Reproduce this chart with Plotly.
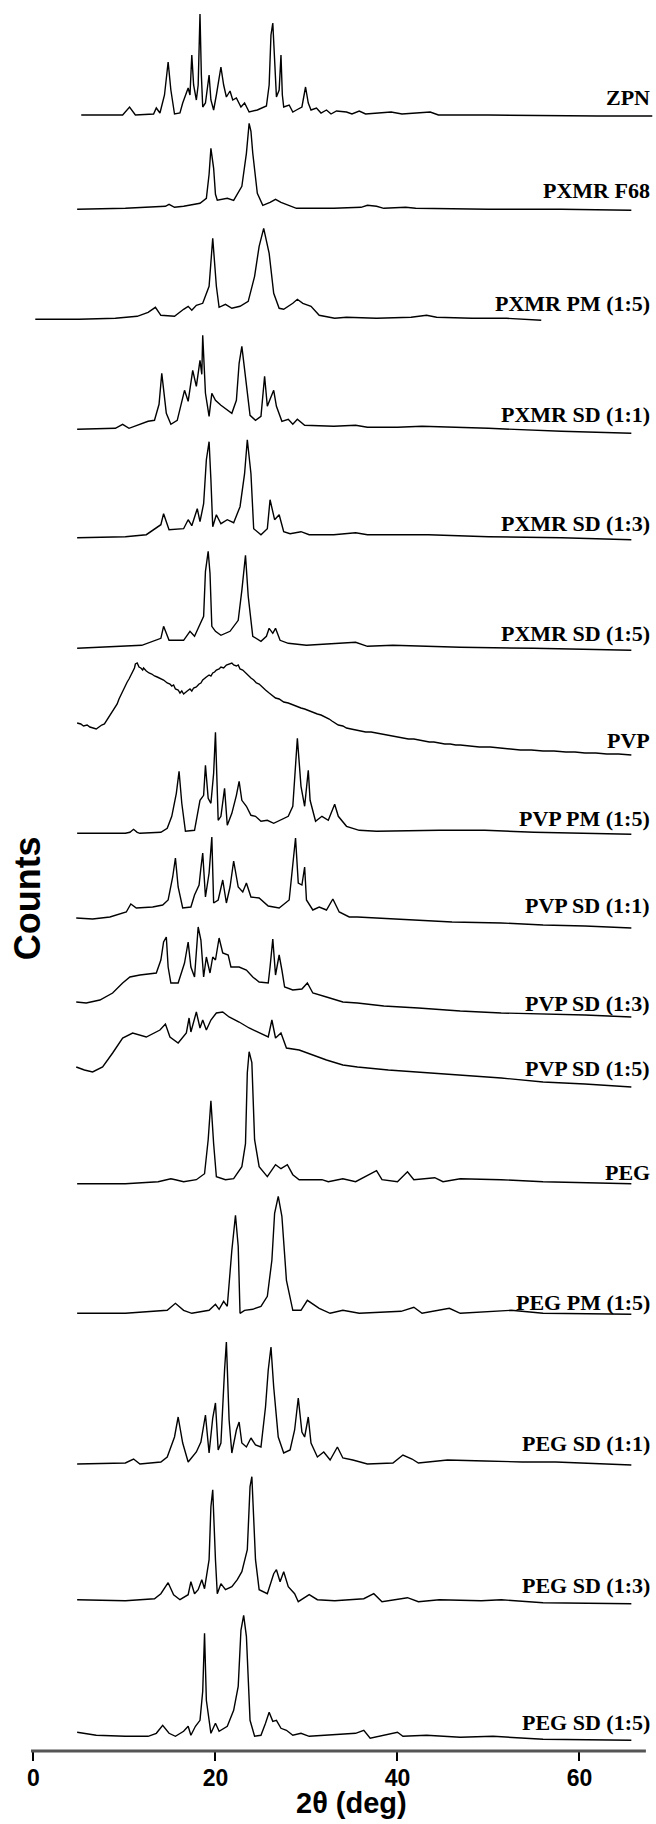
import plotly.graph_objects as go

# ---- data: (2theta, intensity above baseline) ----
ZPN = [(5.25,0),(9.8,0),(10.56,8),(11.2,0),(13.2,1),(13.5,7),(13.9,2),(14.4,20),(14.8,53),(15.1,25),(15.5,1),(16.1,2),
       (16.4,12),(17.0,27),(17.2,20),(17.4,60),(17.6,30),(17.9,15),(18.1,30),(18.3,101),(18.45,40),(18.6,8),(18.9,12),
       (19.3,40),(19.5,15),(19.8,5),(20.1,20),(20.6,48),(20.9,30),(21.2,18),(21.6,24),(21.9,15),(22.3,17),(22.8,8),
       (23.2,12),(23.7,3),(24.6,5),(25.6,9),(25.9,30),(26.1,80),(26.3,92),(26.5,60),(26.7,18),(27.0,25),(27.2,60),
       (27.35,20),(27.5,8),(28.1,10),(28.5,3),(28.9,5),(29.5,8),(29.9,28),(30.2,12),(30.5,5),(31.1,7),(31.6,2),(32.2,5),
       (32.7,1),(33.3,4),(34.4,3),(35.0,1),(35.8,4),(36.5,1),(39.3,3),(40.5,1),(43.6,3),(44.5,0),(50,0),(57,-1),(62,-1),(68,-1)]
PXMR_F68 = [(4.8,0),(10.1,1),(14.5,3),(14.9,5),(15.5,2),(16.5,3),(18.3,6),(19.0,11),(19.3,35),(19.5,61),(19.8,41),(20.0,15),
            (20.2,9),(21.3,11),(22.0,9),(22.9,23),(23.4,56),(23.6,80),(23.7,86),(23.9,78),(24.1,56),(24.6,16),(25.2,4),(26.0,7),
            (26.6,10),(27.2,7),(28.0,4),(28.9,1),(33,1),(36.0,2),(36.7,4),(37.7,3),(38.5,1),(40.9,2),(42,1),(50,0),(58,0),(65.7,-1)]
PXMR_PM15 = [(0.2,-1),(5,-1),(9,0),(11.4,2),(12.6,6),(13.4,11),(14.0,3),(15.5,2),(16.5,9),(17.0,12),(17.4,8),(17.9,13),(18.6,15),
             (19.3,32),(19.7,80),(20.1,32),(20.4,11),(21.1,14),(21.8,10),(22.7,12),(23.6,17),(24.3,42),(24.8,72),(25.3,90),
             (25.9,65),(26.4,25),(27.0,10),(27.5,9),(28.5,15),(29.0,19),(29.6,15),(30.5,12),(31.4,3),(33.1,0),(34.4,1),(37.7,0),
             (41.5,1),(43.2,3),(44.3,1),(48.2,0),(52,0),(55.8,-2)]
PXMR_SD11 = [(4.8,0),(9.0,1),(9.8,5),(10.5,1),(12.6,8),(13.3,9),(13.8,25),(14.1,56),(14.6,16),(15.1,5),(15.8,9),(16.3,26),(16.6,39),
             (17.0,28),(17.5,59),(17.9,43),(18.3,69),(18.5,55),(18.6,94),(18.9,36),(19.3,13),(19.6,36),(20.0,29),(20.6,24),(21.3,19),
             (21.8,16),(22.3,29),(22.6,66),(22.9,83),(23.3,53),(23.8,14),(24.4,9),(25.0,13),(25.4,53),(25.7,23),(26.0,30),(26.4,39),
             (26.7,23),(27.3,8),(28.0,10),(28.5,5),(29.0,10),(29.8,4),(33,3),(35.4,4),(36.7,2),(40,2),(42.7,3),(50,1),(58,-2),(65.7,-4)]
PXMR_SD13 = [(4.8,0),(10.1,1),(12.4,3),(14.0,13),(14.3,24),(14.9,8),(16.5,9),(17.0,18),(17.4,12),(18.0,29),(18.3,16),(18.7,34),(19.0,78),
             (19.3,96),(19.5,58),(19.7,11),(20.1,23),(20.6,14),(21.3,18),(22.0,15),(22.7,31),(23.2,64),(23.5,98),(23.9,64),(24.2,9),
             (25.0,3),(25.7,9),(26.0,38),(26.5,18),(27.0,23),(27.5,6),(28.2,4),(29.4,6),(30.3,3),(33,3),(35.4,5),(36.7,3),(39.5,3),
             (43.4,3),(50,1),(58,0),(65.7,-2)]
PXMR_SD15 = [(4.8,0),(10.1,2),(11.9,3),(14.0,10),(14.3,22),(14.9,8),(16.5,8),(17.2,17),(17.7,12),(18.1,20),(18.7,32),(18.9,77),(19.2,97),
             (19.4,75),(19.6,22),(20.0,17),(20.6,13),(21.6,17),(22.5,28),(22.9,58),(23.3,93),(23.6,52),(24.1,12),(25.0,7),(25.6,12),
             (25.9,20),(26.3,15),(26.6,20),(27.1,8),(28.0,5),(30,3),(35.4,6),(36.7,2),(39.5,3),(46.9,1),(55,0),(65.7,-2)]
PVP = [(4.8,32),(5.2,31),(5.5,29),(5.9,30),(6.2,28),(6.6,27),(6.9,26),(7.2,28),(7.5,30),(7.8,31),(8.0,34),(8.3,38),(8.7,44),
       (9.0,48),(9.2,51),(9.4,56),(9.6,60),(9.9,66),(10.1,69),(10.3,73),(10.5,76),(10.7,80),(10.9,83),(11.1,87),(11.2,91),
       (11.4,92),(11.6,88),(11.8,87),(12.0,85),(12.1,87),(12.4,84),(12.7,82),(13.0,81),(13.3,79),(13.6,78),(14.0,76),(14.3,75),
       (14.7,72),(15.0,71),(15.2,69),(15.4,70),(15.6,66),(15.9,65),(16.1,62),(16.3,64),(16.5,61),(16.7,63),(16.9,64),(17.2,66),
       (17.4,64),(17.6,67),(17.9,68),(18.2,71),(18.4,72),(18.6,75),(18.8,77),(19.0,78),(19.3,80),(19.5,79),(19.7,82),(19.9,83),
       (20.1,85),(20.4,86),(20.6,88),(20.9,87),(21.2,90),(21.5,91),(21.8,92),(22.0,90),(22.3,89),(22.5,90),(22.7,86),(23.0,85),
       (23.3,82),(23.6,80),(23.9,77),(24.2,75),(24.5,72),(24.8,71),(25.2,67),(25.5,65),(25.9,62),(26.2,60),(26.6,57),(27.0,56),
       (27.5,53),(28.0,52),(28.5,50),(29.0,48),(29.4,47),(29.8,46),(30.3,44),(30.7,43),(31.2,41),(31.6,40),(32.1,38),(32.5,36),
       (32.8,34),(33.2,32),(33.5,30),(34.0,29),(34.4,27),(34.9,26),(35.4,25),(36.0,24),(36.5,23),(37.1,23),(37.7,22),(38.2,21),
       (38.8,20),(39.4,19),(40.0,18),(40.6,17),(41.2,16),(41.8,16),(42.3,15),(42.9,14),(43.5,13),(44.0,13),(44.6,12),(45.2,11),
       (45.8,11),(46.4,10),(46.9,10),(48,9),(49,8),(50.2,8),(51.4,7),(52.5,6),(53.5,5),(54.7,5),(56.0,4),(57.2,4),(58.5,3),
       (59.5,3),(60.6,2),(61.8,2),(63,1),(64.3,1),(65.7,0)]
PVP_PM15 = [(4.8,0),(10.1,0),(10.6,1),(11.0,4),(11.4,1),(11.7,0),(14.0,1),(14.7,5),(15.2,17),(15.7,40),(16.0,62),(16.3,30),(16.7,2),
            (17.7,3),(18.3,33),(18.7,38),(18.9,68),(19.2,35),(19.5,30),(19.8,60),(20.0,101),(20.2,40),(20.3,13),(20.6,17),(21.0,45),
            (21.3,8),(21.8,20),(22.3,38),(22.6,52),(22.9,33),(23.4,27),(23.9,18),(24.4,17),(25.0,12),(25.7,13),(26.4,10),(27.1,13),
            (28.0,17),(28.5,27),(28.8,63),(29.0,95),(29.4,47),(29.8,27),(30.2,63),(30.4,33),(31.0,12),(31.7,17),(32.4,13),(33.1,29),
            (33.5,17),(34.4,7),(35.8,3),(37.7,2),(44.6,3),(49.6,3),(55,1),(65.7,-1)]
PVP_SD11 = [(4.7,10),(6.5,9),(8.4,11),(10.2,16),(10.7,24),(11.3,20),(13.1,21),(14.2,23),(14.8,28),(15.3,51),(15.6,70),(15.9,41),
            (16.4,20),(17.3,21),(17.7,33),(18.2,43),(18.4,60),(18.6,75),(18.9,31),(19.3,55),(19.6,91),(19.8,25),(20.3,28),(20.8,48),
            (21.2,25),(21.6,41),(22.0,67),(22.5,41),(23.0,36),(23.4,45),(23.9,31),(24.8,30),(25.8,22),(27.0,20),(28.1,28),(28.5,68),
            (28.8,90),(29.1,45),(29.5,43),(29.8,61),(30.0,28),(30.7,18),(31.4,21),(32.2,18),(32.9,29),(33.6,16),(34.7,11),(35.6,11),
            (38,10),(42.3,8),(46,6),(51.4,5),(56,3),(60.6,2),(65.7,0)]
PVP_SD13 = [(4.7,15),(5.8,14),(7.3,17),(8.7,24),(9.8,34),(10.6,40),(11.7,42),(12.8,43),(13.5,44),(14.0,57),(14.3,75),(14.6,80),
            (14.8,50),(15.1,34),(15.9,34),(16.6,54),(17.0,75),(17.3,50),(17.7,40),(18.1,90),(18.4,77),(18.7,40),(19.0,60),(19.4,44),
            (19.7,60),(20.0,57),(20.4,79),(20.8,64),(21.4,62),(21.7,50),(22.6,50),(23.4,47),(24.1,40),(24.8,35),(25.8,34),(26.0,50),
            (26.3,78),(26.6,42),(27.0,62),(27.3,47),(27.6,30),(28.5,27),(29.5,28),(30.1,34),(30.7,24),(32.2,20),(34.0,15),(35.6,14),
            (38.5,11),(42.3,9),(46.9,6),(51.4,4),(56,3),(60.6,2),(65.7,0)]
PVP_SD15 = [(4.7,20),(5.6,17),(6.5,15),(7.6,20),(8.7,34),(9.8,49),(10.9,54),(12.4,50),(13.9,57),(14.5,63),(15.0,50),(15.9,44),
            (16.8,54),(17.1,69),(17.3,55),(17.9,75),(18.3,59),(18.6,67),(19.0,57),(19.5,67),(20.1,74),(20.8,75),(21.5,70),(22.6,65),
            (23.7,59),(24.8,54),(25.8,50),(26.2,67),(26.6,49),(27.2,54),(27.8,39),(29.2,37),(30.7,32),(32.2,27),(34.0,22),(35.6,20),
            (39,17),(42.3,15),(46.9,12),(51.4,9),(56,5),(60.6,3),(65.7,0)]
PEG = [(4.8,-1),(10.1,-1),(13.7,1),(15.1,4),(15.6,3),(16.5,1),(17.9,3),(18.8,9),(19.2,43),(19.5,82),(19.8,39),(20.1,6),(21.1,3),
       (22.0,4),(22.9,16),(23.3,39),(23.5,110),(23.7,131),(24.0,120),(24.3,43),(24.8,16),(25.7,6),(26.6,18),(27.2,14),(27.9,18),
       (28.5,8),(29.2,3),(31.7,3),(32.4,1),(34.0,4),(35.4,1),(36.7,7),(37.7,12),(38.3,3),(40.0,1),(41.1,11),(41.8,3),(44.1,5),
       (45.0,1),(46.9,4),(51.4,3),(56.0,1),(65.7,-1)]
PEG_PM15 = [(4.8,0),(10.1,0),(14.7,3),(15.6,10),(16.5,3),(17.4,0),(19.3,3),(20.0,9),(20.4,4),(20.9,12),(21.3,7),(21.8,63),(22.2,98),
            (22.5,67),(22.7,0),(23.2,3),(24.1,4),(25.0,7),(25.7,17),(26.2,53),(26.5,100),(26.9,117),(27.3,97),(27.8,33),(28.5,3),
            (29.4,3),(30.1,13),(30.8,9),(31.4,5),(32.6,0),(34.0,3),(35.8,0),(40.4,2),(41.8,6),(42.7,0),(45.7,5),(46.9,0),(52.5,3),
            (56.0,0),(65.7,-1)]
PEG_SD11 = [(4.8,0),(10.1,1),(11.0,5),(11.7,0),(14.0,2),(14.7,7),(15.5,27),(15.9,47),(16.4,21),(17.0,2),(17.9,12),(18.4,22),(18.9,49),
            (19.3,11),(19.7,46),(20.0,61),(20.3,14),(20.6,21),(21.0,94),(21.2,122),(21.5,44),(21.8,11),(22.3,34),(22.6,42),(22.9,21),
            (23.4,17),(23.9,26),(24.4,19),(25.0,17),(25.5,57),(25.8,94),(26.1,117),(26.4,77),(26.9,27),(27.5,11),(28.2,14),(28.7,34),
            (29.1,66),(29.5,32),(29.8,27),(30.2,47),(30.5,21),(31.2,7),(31.9,12),(32.6,4),(33.4,17),(34.0,6),(35.1,4),(36.7,0),
            (39.5,1),(40.6,9),(41.6,5),(42.3,1),(45.5,4),(49.6,3),(53.7,2),(57.4,2),(65.7,-1)]
PEG_SD13 = [(4.8,2),(10.1,1),(13.3,3),(14.0,8),(14.8,19),(15.4,7),(16.1,2),(17.0,7),(17.3,20),(17.7,8),(18.1,12),(18.5,22),(18.8,13),
            (19.3,42),(19.5,95),(19.7,112),(20.0,42),(20.2,8),(20.6,18),(21.1,12),(21.8,15),(22.4,22),(22.9,30),(23.5,52),(23.8,115),
            (24.0,125),(24.4,42),(24.8,12),(25.7,8),(26.4,28),(26.7,32),(27.1,20),(27.5,30),(28.0,15),(28.7,8),(29.1,0),(30.3,7),
            (31.2,2),(33.1,1),(36.3,3),(37.4,8),(38.3,0),(41.1,4),(42.3,0),(44.6,2),(49.2,1),(51.4,2),(56.0,-1),(65.7,-2)]
PEG_SD15 = [(4.8,6),(6.9,3),(10.1,2),(12.6,2),(13.5,5),(14.2,13),(14.9,5),(15.6,2),(16.5,7),(17.0,12),(17.3,3),(17.8,12),(18.3,18),
            (18.6,47),(18.8,105),(19.0,38),(19.5,5),(20.0,15),(20.4,7),(21.3,12),(22.0,28),(22.5,52),(22.8,108),(23.1,123),(23.4,102),
            (23.8,18),(24.3,2),(25.0,3),(25.5,15),(25.9,26),(26.3,17),(26.7,18),(27.2,10),(27.8,8),(28.5,3),(29.4,5),(30.3,2),
            (35.4,5),(36.3,8),(37.0,0),(40.0,6),(40.6,2),(43.2,3),(46.9,1),(50.5,2),(56.0,-1),(65.7,-2)]

labels = ["ZPN", "PXMR F68", "PXMR PM (1:5)", "PXMR SD (1:1)", "PXMR SD (1:3)", "PXMR SD (1:5)", "PVP",
          "PVP PM (1:5)", "PVP SD (1:1)", "PVP SD (1:3)", "PVP SD (1:5)", "PEG", "PEG PM (1:5)",
          "PEG SD (1:1)", "PEG SD (1:3)", "PEG SD (1:5)"]
series = [ZPN, PXMR_F68, PXMR_PM15, PXMR_SD11, PXMR_SD13, PXMR_SD15, PVP, PVP_PM15, PVP_SD11, PVP_SD13,
          PVP_SD15, PEG, PEG_PM15, PEG_SD11, PEG_SD13, PEG_SD15]
# vertical stacking offsets (counts, arbitrary units)
offsets = [1636, 1541.7, 1432.7, 1321.7, 1213.3, 1102.7, 996, 917.7, 823, 734, 664, 568.3, 437.7, 287, 149.3, 12.7]
label_levels = [1654, 1561, 1448, 1337, 1228, 1118, 1011, 933, 846, 748, 683, 579, 449, 308, 166, 29]
x_ticks = [0, 20, 40, 60]

fig = go.Figure()
for name, pts, off in zip(labels, series, offsets):
    fig.add_trace(go.Scatter(x=[p[0] for p in pts], y=[off + p[1] for p in pts], mode="lines",
                             line=dict(color="black", width=1.4), name=name, showlegend=False))

for name, ly in zip(labels, label_levels):
    fig.add_annotation(x=67.95, y=ly, xref="x", yref="y", text=name, showarrow=False, xanchor="right",
                       yanchor="middle", font=dict(family="Liberation Serif, Times New Roman, serif", size=22,
                                                   color="black", weight="bold"))

fig.add_annotation(x=0.515, y=-0.0298, xref="paper", yref="paper", text="2θ (deg)", showarrow=False,
                   xanchor="center", yanchor="middle",
                   font=dict(family="Liberation Sans, Arial, sans-serif", size=29, color="black", weight="bold"))
fig.add_annotation(x=-0.006, y=0.4885, xref="paper", yref="paper", text="Counts", showarrow=False, textangle=-90,
                   xanchor="center", yanchor="middle",
                   font=dict(family="Liberation Sans, Arial, sans-serif", size=36, color="black", weight="bold"))

fig.add_shape(type="line", xref="x", yref="paper", x0=-0.27, x1=67.3, y0=0, y1=0,
              line=dict(color="#555555", width=3))

fig.update_layout(
    width=656, height=1824, margin=dict(l=31, r=2, t=5, b=73),
    paper_bgcolor="white", plot_bgcolor="white",
    xaxis=dict(range=[-0.27, 68.19], tickvals=x_ticks, ticks="outside", ticklen=9, tickwidth=2, tickcolor="black",
               showline=False, showgrid=False, zeroline=False, ticklabelstandoff=-3,
               tickfont=dict(family="Liberation Sans, Arial, sans-serif", size=23, color="black", weight="bold")),
    yaxis=dict(range=[0, 1746], visible=False, showgrid=False, zeroline=False),
)

fig.write_html("out.html", config={"displayModeBar": False}, post_script="document.body.style.margin='0';")
